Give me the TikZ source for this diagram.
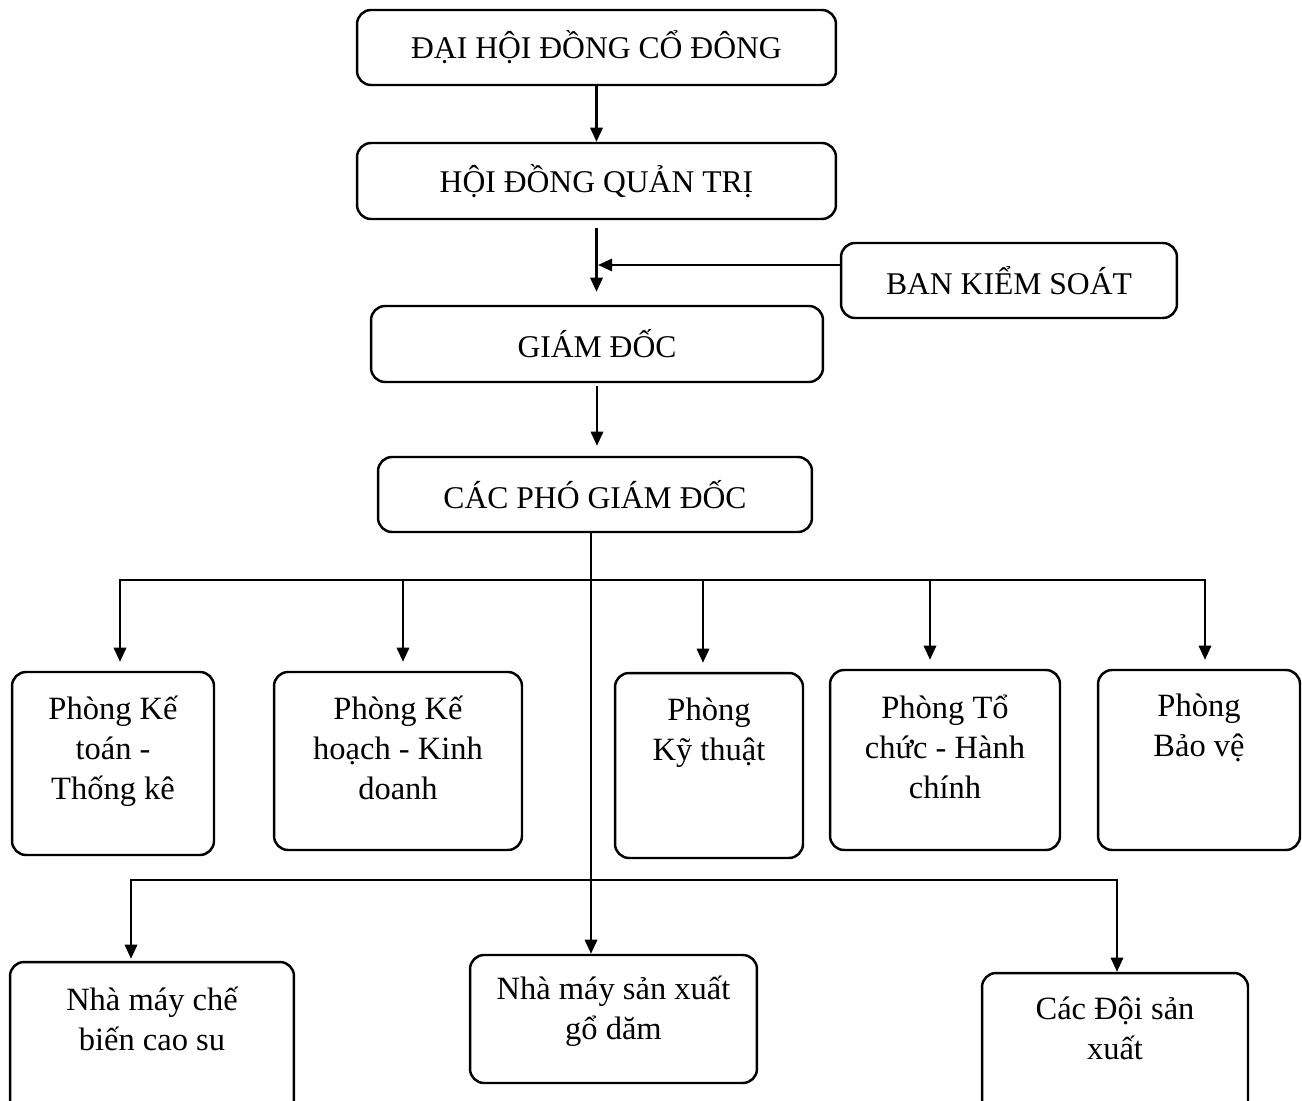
\documentclass[tikz,border=0pt]{standalone}
\usepackage{fontspec}
\setmainfont{Liberation Serif}
\usetikzlibrary{arrows.meta,calc}
\begin{document}
\begin{tikzpicture}[x=0.02cm,y=-0.02cm,
  box/.style={draw, line width=1.4pt, rounded corners=8pt, inner sep=0pt,
    font=\fontsize{18}{22.7}\selectfont},
  lab/.style={font=\fontsize{18.5}{22.7}\selectfont, align=center, anchor=north, inner sep=0pt},
  ln/.style={line width=1.3pt},
  arr/.style={line width=1.3pt, -{Triangle[length=8pt,width=7pt]}}]
\useasboundingbox (0,0) rectangle (1302,1101);
\clip (0,0) rectangle (1302,1101);
% top column
\node[box, minimum width=9.58cm, minimum height=1.5cm] (dh) at (596.5,47.5) {ĐẠI HỘI ĐỒNG CỔ ĐÔNG};
\node[box, minimum width=9.58cm, minimum height=1.52cm] (hd) at (596.5,181) {HỘI ĐỒNG QUẢN TRỊ};
\node[box, minimum width=6.72cm, minimum height=1.5cm] (bks) at (1009,280.5) {BAN KIỂM SOÁT};
\node[box, minimum width=9.04cm, minimum height=1.52cm] (gd) at (597,344) {GIÁM ĐỐC};
\node[box, minimum width=8.68cm, minimum height=1.5cm] (pgd) at (595,494.5) {CÁC PHÓ GIÁM ĐỐC};
% row of departments
\node[box, minimum width=4.04cm, minimum height=3.66cm] (p1) at (113,763.5) {};
\node[box, minimum width=4.96cm, minimum height=3.56cm] (p2) at (398,761) {};
\node[box, minimum width=3.76cm, minimum height=3.7cm] (p3) at (709,765.5) {};
\node[box, minimum width=4.6cm, minimum height=3.6cm] (p4) at (945,760) {};
\node[box, minimum width=4.04cm, minimum height=3.6cm] (p5) at (1199,760) {};
\node[lab] (t1) at ([yshift=-0.5cm]p1.north) {Phòng Kế\\toán -\\Thống kê};
\node[lab] (t2) at ([yshift=-0.5cm]p2.north) {Phòng Kế\\hoạch - Kinh\\doanh};
\node[lab] (t3) at ([yshift=-0.52cm]p3.north) {Phòng\\Kỹ thuật};
\node[lab] (t4) at ([yshift=-0.52cm]p4.north) {Phòng Tổ\\chức - Hành\\chính};
\node[lab] (t5) at ([yshift=-0.5cm]p5.north) {Phòng\\Bảo vệ};
% bottom row
\node[box, minimum width=5.68cm, minimum height=3.26cm] (b1) at (152,1043.5) {};
\node[box, minimum width=5.74cm, minimum height=2.56cm] (b2) at (613.5,1019) {};
\node[box, minimum width=5.32cm, minimum height=3.04cm] (b3) at (1115,1049) {};
\node[lab] (u1) at ([yshift=-0.52cm]b1.north) {Nhà máy chế\\biến cao su};
\node[lab] (u2) at ([yshift=-0.44cm]b2.north) {Nhà máy sản xuất\\gổ dăm};
\node[lab] (u3) at ([yshift=-0.5cm]b3.north) {Các Đội sản\\xuất};
% connectors
\draw[arr] (dh.south) -- (hd.north);
\draw[arr, shorten <=0.16cm, shorten >=0.26cm] (hd.south) -- (hd.south |- gd.north);
\coordinate (m) at (598,265);
\draw[arr] (bks.west |- m) -- (m);
\draw[arr, shorten <=0.06cm, shorten >=0.2cm] (gd.south) -- (gd.south |- pgd.north);
\coordinate (v1) at (591,580);
\coordinate (v2) at (591,880);
\draw[ln] (pgd.south -| v1) -- (v1) -- (v2);
\draw[arr] (v2) -- (v2 |- b2.north);
\draw[arr, shorten >=0.18cm] (v1) -| ([xshift=0.14cm]p1.north);
\draw[arr, shorten >=0.18cm] (v1) -| ([xshift=0.1cm]p2.north);
\draw[arr, shorten >=0.18cm] (v1) -| ([xshift=-0.12cm]p3.north);
\draw[arr, shorten >=0.18cm] (v1) -| ([xshift=-0.3cm]p4.north);
\draw[arr, shorten >=0.18cm] (v1) -| ([xshift=0.12cm]p5.north);
\draw[arr, shorten >=0.04cm] (v2) -| ([xshift=-0.42cm]b1.north);
\draw[arr] (v2) -| ([xshift=0.04cm]b3.north);
\end{tikzpicture}
\end{document}
